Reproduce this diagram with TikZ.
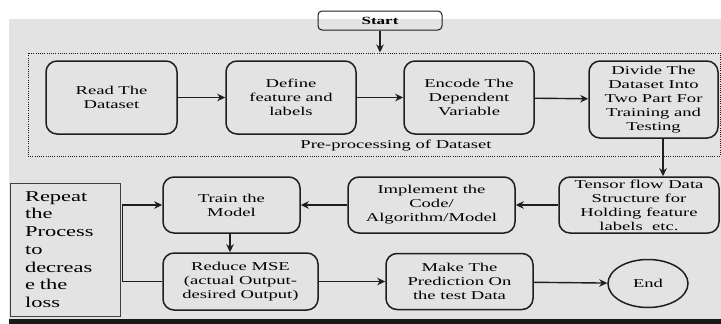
\documentclass[tikz,border=0pt]{standalone}
\usepackage{fontspec}
\setmainfont{Liberation Serif}[FakeStretch=1.55]
\newfontfamily\repeatfont{Liberation Serif}[FakeStretch=1.5]
\usetikzlibrary{shapes.geometric, arrows.meta, positioning}
\definecolor{bggray1}{RGB}{227, 227, 227}
\definecolor{edge1}{RGB}{30, 30, 30}
\definecolor{band1}{RGB}{25, 25, 25}
\tikzset{
  stagebox/.style={draw=edge1, line width=1.5pt, rounded corners=11pt, align=center, inner sep=2pt, font=\fontsize{12}{14}\selectfont},
  flowarrow/.style={-{Stealth[length=8pt, width=7.5pt, inset=2.5pt]}, line width=1.4pt, draw=edge1},
}

\begin{document}
\begin{tikzpicture}[x=1pt, y=-1pt]
  \useasboundingbox (0,0) rectangle (721,324);
  \fill[white] (0,0) rectangle (721,324);
  \fill[bggray1] (9,19) rectangle (721,319);
  \fill[band1] (9,319) rectangle (721,324);

  \node[draw=edge1, line width=1pt, rounded corners=4pt, minimum width=124pt, minimum height=19pt, inner sep=0pt, font=\bfseries\fontsize{11}{13}\selectfont] (start) at (380, 20.5) {Start};

  \node[draw=edge1, line width=1pt, dash pattern=on 1pt off 1.2pt, minimum width=692pt, minimum height=103pt, inner sep=0pt] (prep) at (374, 104.5) {};
  \node[font=\fontsize{12}{14}\selectfont] (preplabel) at (396, 146) {Pre-processing of Dataset};

  % first row
  \node[stagebox, minimum width=131pt, minimum height=73pt] (read) at (111.5, 97.5) {Read The\\Dataset};
  \node[stagebox, minimum width=130pt, minimum height=73pt] (define) at (291, 97.5) {Define\\feature and\\labels};
  \node[stagebox, minimum width=130pt, minimum height=73pt] (encode) at (469, 97.5) {Encode The\\Dependent\\Variable};
  \node[stagebox, minimum width=129pt, minimum height=77pt] (divide) at (653.5, 99.5) {Divide The\\Dataset Into\\Two Part For\\Training and\\Testing};

  % second row
  \node[stagebox, minimum width=160pt, minimum height=56pt] (tensor) at (639, 205) {Tensor flow Data\\Structure for\\Holding feature\\labels\ \ etc.};
  \node[stagebox, minimum width=167pt, minimum height=56pt] (implement) at (431.5, 205) {Implement the\\Code/\\Algorithm/Model};
  \node[stagebox, minimum width=137pt, minimum height=56pt] (train) at (231.5, 205) {Train the\\Model};

  % third row
  \node[stagebox, minimum width=155pt, minimum height=57pt] (reduce) at (240.5, 281.5) {Reduce MSE\\(actual Output-\\desired Output)};
  \node[stagebox, minimum width=147pt, minimum height=56pt] (predict) at (459.5, 281.5) {Make The\\Prediction On\\the test Data};
  \node[draw=edge1, line width=1.5pt, ellipse, minimum width=80pt, minimum height=48pt, inner sep=0pt, font=\fontsize{12}{14}\selectfont] (end) at (648, 283.5) {End};

  \node[draw=edge1!85, line width=0.9pt, minimum height=133pt, text width=80pt, inner xsep=15pt, align=left, font=\repeatfont\fontsize{15}{17.7}\selectfont] (repeat) at (65, 249.5) {Repeat\\the\\Process\\to\\decreas\\e the\\loss};

  \draw[flowarrow] (start.south) -- (start.south |- prep.north);
  \draw[flowarrow] (read) -- (define);
  \draw[flowarrow] (define) -- (encode);
  \draw[flowarrow] (encode) -- (divide);
  \draw[flowarrow] ([xshift=9.5pt]divide.south) -- ([xshift=9.5pt]divide.south |- tensor.north);
  \draw[flowarrow] (tensor) -- (implement);
  \draw[flowarrow] (implement) -- (train);
  \draw[flowarrow] ([xshift=-1.5pt]train.south) -- ([xshift=-1.5pt]train.south |- reduce.north);
  \draw[flowarrow] (reduce) -- (predict);
  \draw[flowarrow] (predict) -- (end);
  \draw[flowarrow] (reduce.west) -- ++(-40,0) |- (train.west);
\end{tikzpicture}
\end{document}
